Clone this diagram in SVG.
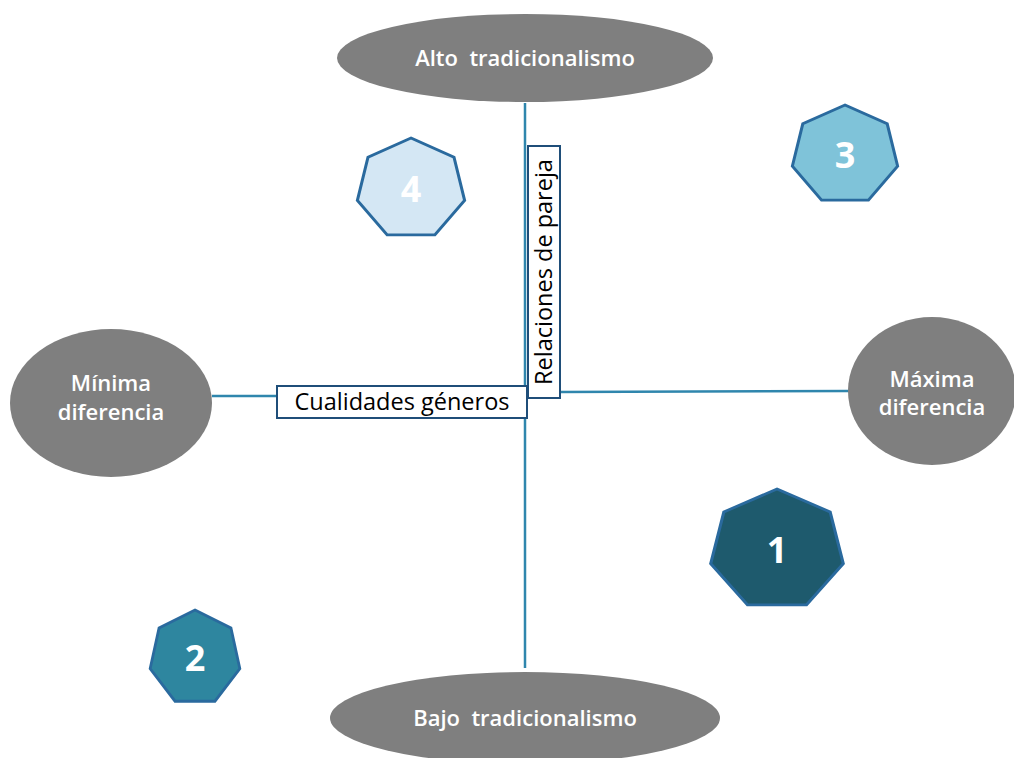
<svg xmlns="http://www.w3.org/2000/svg" width="1014" height="758" viewBox="0 0 1014 758">
<defs>
<style>
.ell{fill:#7f7f7f;}
.et{fill:#ffffff;font-family:"Open Sans","Liberation Sans",sans-serif;font-weight:600;font-size:22px;text-anchor:middle;white-space:pre;}
.ln{stroke:#2f86ad;stroke-width:2.5;fill:none;}
.box{fill:#ffffff;stroke:#1f4e79;stroke-width:2;}
.bt{fill:#000000;font-family:"Open Sans","Liberation Sans",sans-serif;font-size:23.5px;text-anchor:middle;}
.ht{fill:#ffffff;font-family:"Open Sans","Liberation Sans",sans-serif;font-weight:700;font-size:36px;text-anchor:middle;}
</style>
<polygon id="hepta" points="0,-1 0.7818,-0.6235 0.9749,0.2225 0.4339,0.901 -0.4339,0.901 -0.9749,0.2225 -0.7818,-0.6235"/>
</defs>
<rect width="1014" height="758" fill="#ffffff"/>
<g id="connectors">
<line class="ln" x1="525" y1="103" x2="525" y2="668"/>
<line class="ln" x1="212" y1="396" x2="277" y2="396"/>
<line class="ln" x1="560" y1="392" x2="849" y2="391"/>
</g>
<g id="alto">
<ellipse class="ell" cx="525" cy="58" rx="188" ry="44"/>
<text class="et" x="525" y="66" xml:space="preserve">Alto  tradicionalismo</text>
</g>
<g id="bajo">
<ellipse class="ell" cx="525" cy="718" rx="195" ry="46"/>
<text class="et" x="525" y="726" xml:space="preserve">Bajo  tradicionalismo</text>
</g>
<g id="minima">
<ellipse class="ell" cx="111" cy="403" rx="101" ry="74"/>
<text class="et" x="111" y="391">Mínima</text>
<text class="et" x="111" y="420">diferencia</text>
</g>
<g id="maxima">
<ellipse class="ell" cx="932" cy="391" rx="84" ry="74"/>
<text class="et" x="932" y="387">Máxima</text>
<text class="et" x="932" y="415">diferencia</text>
</g>
<g id="cualidades">
<rect class="box" x="277" y="386" width="250" height="32"/>
<text class="bt" x="402" y="410">Cualidades géneros</text>
</g>
<g id="relaciones">
<rect class="box" x="528" y="146" width="32" height="252"/>
<text class="bt" transform="translate(552,272) rotate(-90)" x="0" y="0">Relaciones de pareja</text>
</g>
<g id="n4">
<use href="#hepta" transform="translate(411,189) scale(55,51)" fill="#d4e7f4" stroke="#2a6a9e" stroke-width="0.055"/>
<text class="ht" x="411" y="202">4</text>
</g>
<g id="n3">
<use href="#hepta" transform="translate(845,155) scale(54,50)" fill="#7fc3d9" stroke="#2a6a9e" stroke-width="0.055"/>
<text class="ht" x="845" y="168">3</text>
</g>
<g id="n1">
<use href="#hepta" transform="translate(777,550) scale(68,61)" fill="#1e5a6d" stroke="#2a6a9e" stroke-width="0.045"/>
<text class="ht" x="777" y="563">1</text>
</g>
<g id="n2">
<use href="#hepta" transform="translate(195,658) scale(46,48)" fill="#2e869f" stroke="#2a6a9e" stroke-width="0.06"/>
<text class="ht" x="195" y="671">2</text>
</g>
</svg>
